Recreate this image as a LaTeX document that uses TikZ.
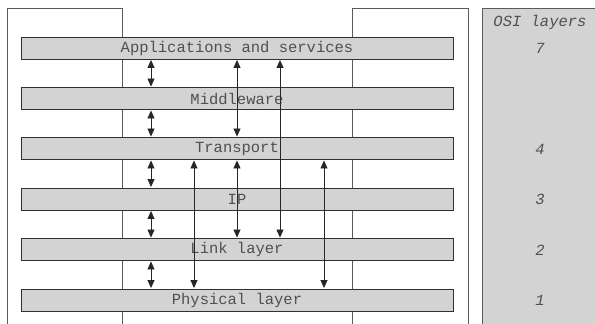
\documentclass[tikz,border=0pt]{standalone}
\usepackage{fontspec}
\setmonofont{Liberation Mono}
\usetikzlibrary{arrows.meta}
\definecolor{txt}{HTML}{505050}
\definecolor{barfill}{HTML}{D3D3D3}
\definecolor{barline}{HTML}{303030}
\definecolor{frameline}{HTML}{5A5A5A}
\tikzset{
  layerbar/.style={draw=barline, fill=barfill, line width=0.9pt, minimum width=432pt, minimum height=22pt, inner sep=0pt, font=\ttfamily\fontsize{15.5}{16}\selectfont, text=txt},
  ositext/.style={font=\ttfamily\itshape\fontsize{15.5}{16}\selectfont, text=txt, inner sep=0pt},
  frame/.style={draw=frameline, line width=0.9pt},
  arr/.style={{Triangle[length=8pt,width=7pt]}-{Triangle[length=8pt,width=7pt]}, line width=0.8pt, draw=black!85, fill=black!85, shorten <=0.5pt, shorten >=0.5pt}
}
\begin{document}
\begin{tikzpicture}[x=1pt,y=-1pt]
\useasboundingbox (0,0) rectangle (595,324);
% frames
\draw[frame] (7,326) -- (7,8) -- (122,8) -- (122,326);
\draw[frame] (352,326) -- (352,8) -- (468,8) -- (468,326);
\draw[draw=frameline, fill=barfill, line width=0.9pt] (482,326) -- (482,8) -- (600,8) -- (600,326);
% OSI labels
\node[ositext] (osi) at (540,22) {OSI layers};
\node[ositext] (n7) at (540,48) {7};
\node[ositext] (n4) at (540,149) {4};
\node[ositext] (n3) at (540,199.5) {3};
\node[ositext] (n2) at (540,250) {2};
\node[ositext] (n1) at (540,300) {1};
% layers
\node[layerbar] (app) at (237,48) {Applications and services};
\node[layerbar] (mid) at (237,98.5) {Middleware};
\node[layerbar] (tra) at (237,148.5) {Transport};
\node[layerbar] (ip) at (237,199) {IP};
\node[layerbar] (lnk) at (237,249.5) {Link layer};
\node[layerbar] (phy) at (237,300) {Physical layer};
% arrow columns
\coordinate (c1) at (151,0);
\coordinate (c2) at (194,0);
\coordinate (c3) at (237,0);
\coordinate (c4) at (280,0);
\coordinate (c5) at (324,0);
% arrows
\draw[arr] (app.south -| c1) -- (mid.north -| c1);
\draw[arr] (mid.south -| c1) -- (tra.north -| c1);
\draw[arr] (tra.south -| c1) -- (ip.north -| c1);
\draw[arr] (ip.south -| c1) -- (lnk.north -| c1);
\draw[arr] (lnk.south -| c1) -- (phy.north -| c1);
\draw[arr] (app.south -| c3) -- (tra.north -| c3);
\draw[arr] (app.south -| c4) -- (lnk.north -| c4);
\draw[arr] (tra.south -| c2) -- (phy.north -| c2);
\draw[arr] (tra.south -| c3) -- (lnk.north -| c3);
\draw[arr] (tra.south -| c5) -- (phy.north -| c5);
\end{tikzpicture}
\end{document}
